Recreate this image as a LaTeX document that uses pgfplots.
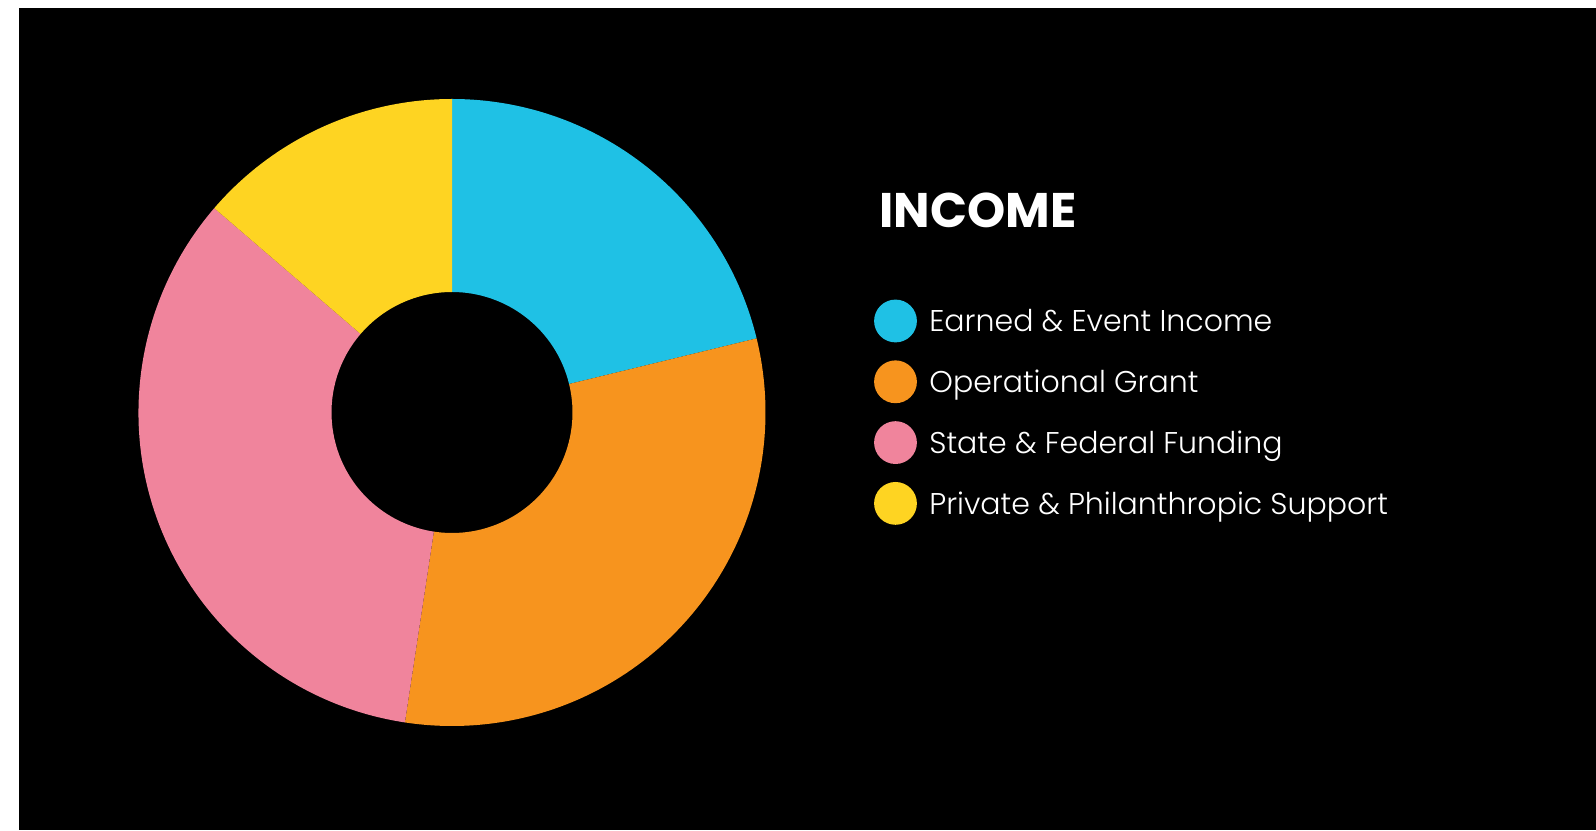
\documentclass[border=0pt]{standalone}
\usepackage{pgfplots}
\pgfplotsset{compat=1.18}
\usepackage{fontspec}
\setmainfont{Poppins}
\newfontfamily\lightfont{Poppins Light}
\newfontfamily\heavyfont{Poppins Bold}

\definecolor{cEarned}{HTML}{1FC1E5}
\definecolor{cGrant}{HTML}{F7941E}
\definecolor{cState}{HTML}{F0849C}
\definecolor{cPrivate}{HTML}{FED422}

% share of income, percent (clockwise from 12 o'clock)
\pgfplotstableread{
value color
21.2  cEarned
31.2  cGrant
33.9  cState
13.7  cPrivate
}\income

\begin{document}
\begin{tikzpicture}
\begin{axis}[
  hide axis, scale only axis, clip=false,
  x=0.5bp, y=0.5bp,
  xmin=0, xmax=1596, ymin=0, ymax=830,
]
% page and background
\fill[white] (axis cs:0,0) rectangle (axis cs:1596,830);
\fill[black] (axis cs:19,0) rectangle (axis cs:1596,822);

% donut
\def\astart{90}
\pgfplotstablegetrowsof{\income}
\pgfmathtruncatemacro\nrows{\pgfplotsretval-1}
\pgfplotsforeachungrouped \i in {0,...,\nrows}{
  \pgfplotstablegetelem{\i}{value}\of{\income}\let\v\pgfplotsretval
  \pgfplotstablegetelem{\i}{color}\of{\income}\let\c\pgfplotsretval
  \pgfmathsetmacro\aend{\astart-3.6*\v}
  \edef\temp{\noexpand\fill[\c]
    (axis cs:{452+313.5*cos(\astart)},{417.5+313.5*sin(\astart)})
    arc[start angle=\astart, end angle=\aend, radius=156.75bp]
    -- (axis cs:{452+120.5*cos(\aend)},{417.5+120.5*sin(\aend)})
    arc[start angle=\aend, end angle=\astart, radius=60.25bp] -- cycle;}
  \temp
  \global\let\astart\aend
}

% title and legend
\node[anchor=base west, inner sep=0, text=white, font=\heavyfont\fontsize{24.3bp}{28bp}\selectfont]
  at (axis cs:879,602.7) {INCOME};
\fill[cEarned]  (axis cs:895.5,509) circle[radius=10.7bp];
\fill[cGrant]   (axis cs:895.5,448.2) circle[radius=10.7bp];
\fill[cState]   (axis cs:895.5,387.4) circle[radius=10.7bp];
\fill[cPrivate] (axis cs:895.5,326.6) circle[radius=10.7bp];
\begin{scope}[every node/.style={anchor=base west, inner sep=0, text=white,
    font=\lightfont\fontsize{15bp}{18bp}\selectfont}]
\node at (axis cs:929,498.3) {Earned \& Event Income};
\node at (axis cs:929,437.5) {Operational Grant};
\node at (axis cs:929,376.7) {State \& Federal Funding};
\node at (axis cs:929,315.9) {Private \& Philanthropic Support};
\end{scope}
\end{axis}
\end{tikzpicture}
\end{document}
